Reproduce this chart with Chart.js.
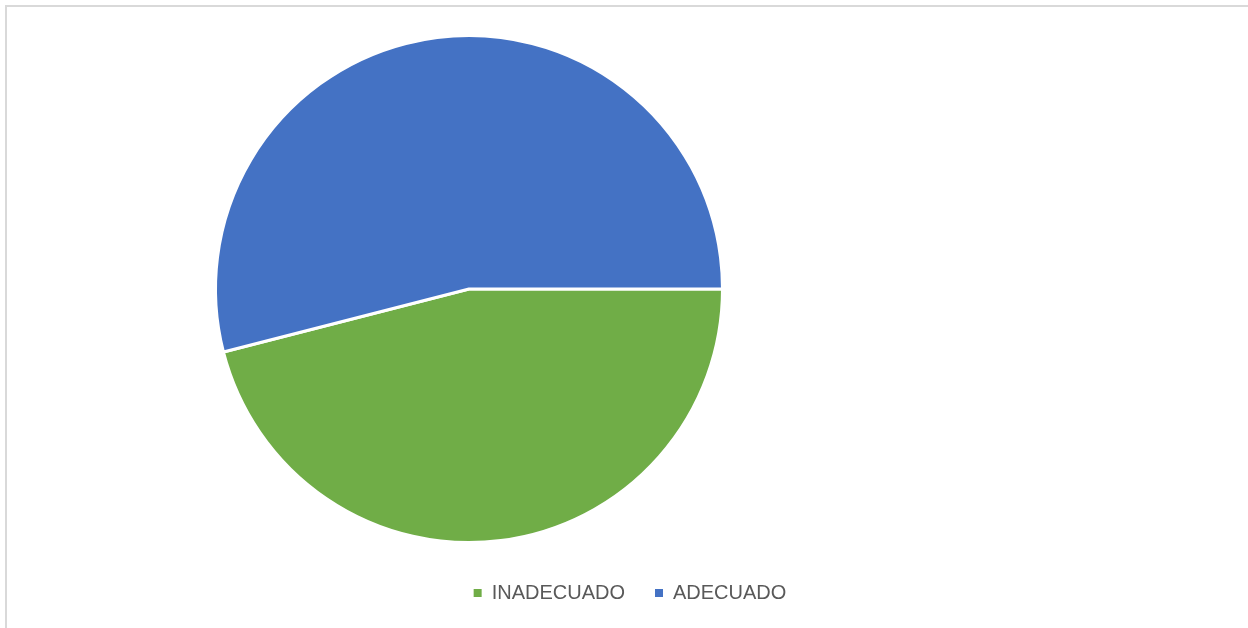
<!DOCTYPE html>
<html lang="es">
<head>
<meta charset="utf-8">
<title>Adecuado / Inadecuado</title>
<script src="https://cdn.jsdelivr.net/npm/chart.js@4.4.0/dist/chart.umd.min.js"></script>
<style>
    html, body {
        margin: 0;
        padding: 0;
        width: 1248px;
        height: 628px;
        overflow: hidden;
        background: #ffffff;
    }
    .frame {
        position: absolute;
        left: 5px;
        top: 5px;
        width: 1270px;
        height: 650px;
        border: 2px solid #d9d9d9;
        box-sizing: border-box;
    }
    .chart-box {
        position: absolute;
        left: 0;
        top: 0;
        width: 1262px;
        height: 628px;
    }
</style>
</head>
<body>
<div class="frame"></div>
<div class="chart-box">
    <canvas id="pieChart"></canvas>
</div>

<script>
// --- Data ---------------------------------------------------------------
const categories = ['INADECUADO', 'ADECUADO'];
const values = [46, 54];
const sliceColors = ['#70ad47', '#4472c4'];

// --- Plot area shift ------------------------------------------------------
// The legend stays centred on the canvas while the pie sits left of centre.
const PIE_CENTER_X = 469;

const shiftPlotArea = {
    id: 'shiftPlotArea',
    afterLayout(chart) {
        const area = chart.chartArea;
        const dx = PIE_CENTER_X - (area.left + area.right) / 2;
        area.left += dx;
        area.right += dx;
    }
};

// --- Chart ----------------------------------------------------------------
const ctx = document.getElementById('pieChart').getContext('2d');
const defaultLabels = Chart.controllers.pie.overrides.plugins.legend.labels.generateLabels;

new Chart(ctx, {
    type: 'pie',
    data: {
        labels: categories,
        datasets: [{
            data: values,
            backgroundColor: sliceColors,
            borderColor: '#ffffff',
            borderWidth: 3,
            hoverOffset: 0
        }]
    },
    options: {
        responsive: true,
        maintainAspectRatio: false,
        animation: false,
        rotation: 90,
        layout: {
            padding: { top: 25, bottom: 15, left: 375, right: 377 }
        },
        plugins: {
            legend: {
                position: 'bottom',
                labels: {
                    color: '#595959',
                    boxWidth: 8,
                    boxHeight: 8,
                    padding: 30,
                    font: { family: "'Liberation Sans', Arial, sans-serif", size: 20 },
                    // plain filled squares, no white outline
                    generateLabels(chart) {
                        return defaultLabels(chart).map(item => ({ ...item, lineWidth: 0 }));
                    }
                }
            },
            tooltip: { enabled: false }
        }
    },
    plugins: [shiftPlotArea]
});
</script>
</body>
</html>
